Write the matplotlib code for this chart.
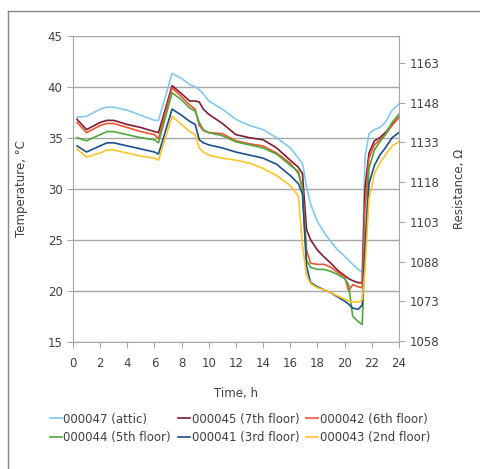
import numpy as np
import matplotlib.pyplot as plt
from matplotlib.lines import Line2D

plt.rcParams['font.family'] = ['DejaVu Sans']

# time, h
t = [0.3, 1.0, 2.0, 2.5, 3.0, 4.0, 5.0, 6.0, 6.3, 7.3, 8.0, 8.6, 9.0, 9.3, 9.6,
     10.0, 11.0, 12.0, 13.0, 14.0, 15.0, 16.0, 16.6, 16.9, 17.2, 17.5, 18.0,
     18.5, 19.0, 19.5, 20.0, 20.3, 20.6, 21.0, 21.3, 21.5, 21.8, 22.2, 22.6,
     23.0, 23.5, 24.0]

attic = [37.0, 37.1, 37.8, 38.0, 38.0, 37.7, 37.2, 36.7, 36.7, 41.3, 40.8, 40.2,
         40.0, 39.7, 39.3, 38.6, 37.8, 36.8, 36.2, 35.8, 35.0, 34.0, 33.0, 32.5,
         30.2, 28.5, 26.8, 25.7, 24.8, 24.0, 23.4, 23.0, 22.6, 22.1, 21.8, 33.0,
         35.4, 35.8, 36.0, 36.5, 37.7, 38.3]
floor7 = [36.8, 35.8, 36.5, 36.7, 36.7, 36.3, 36.0, 35.6, 35.5, 40.1, 39.3, 38.6,
          38.6, 38.5, 37.8, 37.3, 36.4, 35.3, 35.0, 34.8, 34.0, 32.8, 32.1, 31.5,
          26.0, 25.0, 24.0, 23.3, 22.7, 22.0, 21.5, 21.2, 21.0, 20.8, 20.8, 30.0,
          33.5, 34.7, 35.0, 35.5, 36.3, 37.0]
floor6 = [36.5, 35.5, 36.2, 36.4, 36.4, 36.0, 35.6, 35.3, 34.9, 39.9, 39.0, 38.2,
          37.8, 36.2, 35.7, 35.5, 35.4, 34.7, 34.4, 34.2, 33.5, 32.5, 31.5, 30.0,
          24.0, 22.7, 22.6, 22.6, 22.3, 21.8, 21.4, 20.0, 20.6, 20.4, 20.3, 28.0,
          33.0, 34.3, 34.8, 35.3, 36.2, 37.0]
floor5 = [35.0, 34.7, 35.3, 35.6, 35.6, 35.3, 35.0, 34.8, 34.5, 39.4, 38.7, 37.9,
          37.6, 36.5, 35.8, 35.5, 35.2, 34.6, 34.3, 34.0, 33.4, 32.3, 31.7, 30.0,
          23.0, 22.3, 22.1, 22.1, 21.9, 21.6, 21.2, 20.6, 17.5, 17.0, 16.7, 24.0,
          32.0, 33.8, 34.6, 35.3, 36.5, 37.3]
floor3 = [34.2, 33.6, 34.2, 34.5, 34.5, 34.2, 33.9, 33.6, 33.4, 37.8, 37.2, 36.6,
          36.3, 34.8, 34.5, 34.3, 34.0, 33.6, 33.3, 33.0, 32.4, 31.3, 30.5, 29.5,
          22.4, 20.8, 20.4, 20.1, 19.8, 19.4, 19.0, 18.7, 18.3, 18.2, 18.6, 24.0,
          30.5, 32.3, 33.3, 34.0, 35.0, 35.5]
floor2 = [33.9, 33.1, 33.5, 33.8, 33.8, 33.5, 33.2, 33.0, 32.8, 37.1, 36.3, 35.6,
          35.3, 34.0, 33.6, 33.3, 33.0, 32.8, 32.5, 32.0, 31.3, 30.3, 29.3, 24.5,
          21.5, 20.7, 20.3, 20.1, 19.8, 19.5, 19.2, 19.0, 18.9, 18.9, 19.1, 22.0,
          29.0, 31.5, 32.5, 33.3, 34.2, 34.6]

labels = ['000047 (attic)', '000045 (7th floor)', '000042 (6th floor)',
          '000044 (5th floor)', '000041 (3rd floor)', '000043 (2nd floor)']
series = [attic, floor7, floor6, floor5, floor3, floor2]
colors = ['#84C8EE', '#7D1D35', '#F0532F', '#4FA83A', '#1B4E8E', '#FFC42A']

r_ticks = [1058, 1073, 1088, 1103, 1118, 1133, 1148, 1163]

grey = '#A6A6A6'
text_c = '#404040'
fs = 8.5

fig = plt.figure(figsize=(4.8, 4.69), dpi=100)
ax = fig.add_axes([0.152, 0.271, 0.679, 0.653])

lines = []
for y, c, lab in zip(series, colors, labels):
    ln, = ax.plot(t, y, color=c, lw=1.2, label=lab)
    lines.append(ln)

ax.set_xlim(0, 24)
ax.set_ylim(15, 45)
ax.set_xticks(range(0, 25, 2))
ax.set_yticks(range(15, 46, 5))
ax.yaxis.grid(True, color=grey, lw=1)
ax.set_axisbelow(True)
for s in ['left', 'bottom', 'right']:
    ax.spines[s].set_color(grey)
ax.spines['top'].set_visible(False)
ax.tick_params(colors=grey, labelcolor=text_c, labelsize=fs, length=4)
ax.tick_params(axis='x', pad=7)
ax.set_xlabel('Time, h', color=text_c, fontsize=fs, labelpad=12)
ax.set_ylabel('Temperature, °C', color=text_c, fontsize=fs, labelpad=14)

# Pt1000-like resistance scale on the right
ax2 = ax.twinx()
ax2.set_ylim(1000 * (1 + 0.00385 * 15), 1000 * (1 + 0.00385 * 45))
ax2.set_yticks(r_ticks)
for s in ['left', 'bottom', 'right', 'top']:
    ax2.spines[s].set_visible(False)
ax2.tick_params(colors=grey, labelcolor=text_c, labelsize=fs, length=4)
ax2.set_ylabel('Resistance, Ω', color=text_c, fontsize=fs, labelpad=10)

# legend filled row by row like the original
order = [0, 3, 1, 4, 2, 5]
fig.legend(handles=[lines[i] for i in order], loc='center',
           bbox_to_anchor=(0.5, 0.087), ncol=3, frameon=False, fontsize=fs,
           handlelength=1.0, handletextpad=0.15, columnspacing=0.6,
           labelspacing=0.45, labelcolor=text_c)

# outer frame lines (left and top)
fig.add_artist(Line2D([8 / 480, 8 / 480], [0, 1 - 11 / 469], color='#888888', lw=1))
fig.add_artist(Line2D([8 / 480, 1], [1 - 11 / 469, 1 - 11 / 469], color='#888888', lw=1))

fig.savefig('out.png', dpi=100)
